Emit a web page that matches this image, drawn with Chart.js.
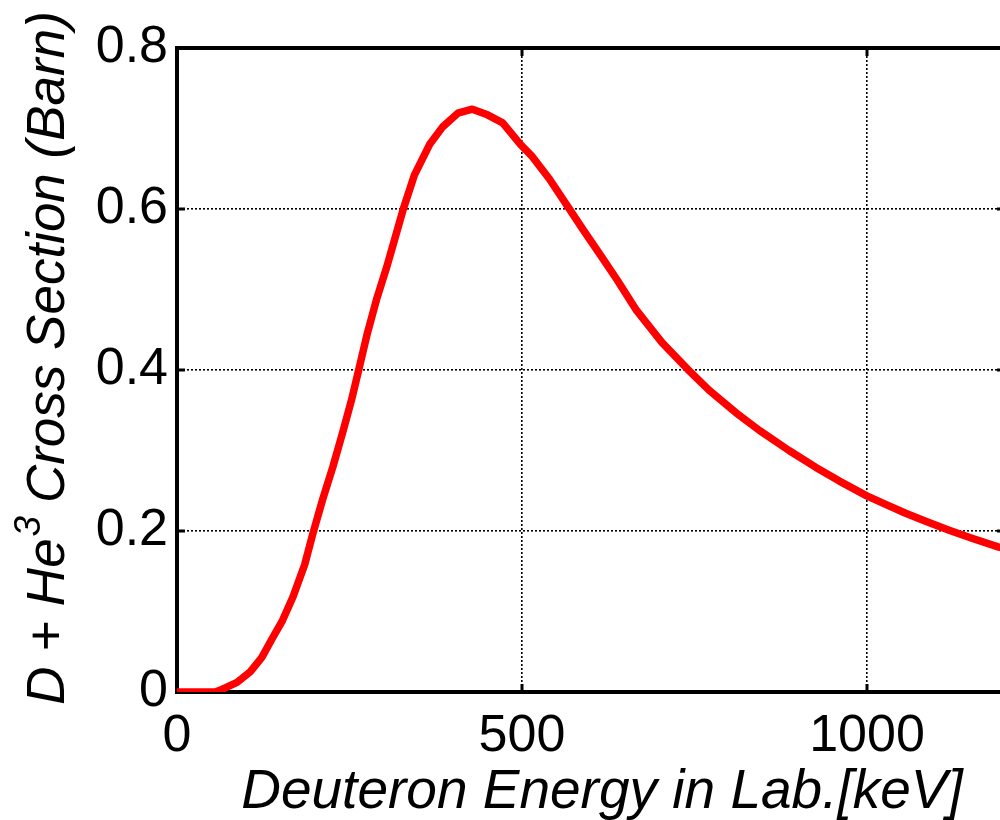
<!DOCTYPE html>
<html><head><meta charset="utf-8">
<script src="https://cdn.jsdelivr.net/npm/chart.js@4.4.1/dist/chart.umd.min.js"></script>
<style>
html,body{margin:0;padding:0;background:#fff;overflow:hidden;width:1000px;height:820px;}
#wrap{width:1012px;height:820px;}
canvas{display:block;}
</style></head><body>
<div id="wrap"><canvas id="c" width="1012" height="820"></canvas></div>
<script>
// ---- data ----
const energyKeV = [0, 30, 55, 62, 87, 106, 123, 137, 153, 168, 185, 197, 211, 226, 240, 253, 263, 276, 289, 304, 318, 328, 344, 366, 385, 407, 428, 450, 472, 498, 515, 540, 564, 588, 612, 637, 666, 703, 740, 771, 810, 844, 887, 926, 960, 999, 1027, 1056, 1085, 1119, 1152, 1191, 1200];
const crossSectionBarn = [0, 0, 0, 0.002, 0.012, 0.025, 0.043, 0.065, 0.089, 0.118, 0.158, 0.197, 0.239, 0.28, 0.322, 0.363, 0.399, 0.446, 0.487, 0.528, 0.570, 0.6, 0.642, 0.68, 0.702, 0.719, 0.724, 0.717, 0.707, 0.68, 0.665, 0.637, 0.606, 0.575, 0.545, 0.513, 0.474, 0.434, 0.401, 0.375, 0.347, 0.325, 0.300, 0.279, 0.262, 0.244, 0.233, 0.222, 0.212, 0.201, 0.191, 0.180, 0.178];
const xTickValues = [0, 500, 1000];
const yTickValues = [0, 0.2, 0.4, 0.6, 0.8];
const xAxisTitle = 'Deuteron Energy in Lab.[keV]';
const yAxisTitleParts = ['D + He', '3', ' Cross Section (Barn)'];

const FONT = "'Liberation Sans', Arial, sans-serif";

const points = energyKeV.map((e, i) => ({x: e, y: crossSectionBarn[i]}));

const framePlugin = {
  id: 'frame',
  beforeDatasetsDraw(chart) {
    const {ctx, chartArea: {left, right, top, bottom}, scales: {x, y}} = chart;
    ctx.save();
    ctx.strokeStyle = '#000';
    ctx.lineWidth = 4;
    ctx.beginPath();
    ctx.moveTo(left - 2, top); ctx.lineTo(right + 2, top);
    ctx.moveTo(right, top); ctx.lineTo(right, bottom);
    ctx.stroke();
    const L = 8;
    ctx.lineWidth = 3;
    ctx.beginPath();
    xTickValues.forEach(v => {
      const px = x.getPixelForValue(v);
      ctx.moveTo(px, bottom); ctx.lineTo(px, bottom - L);
      ctx.moveTo(px, top); ctx.lineTo(px, top + L);
    });
    yTickValues.forEach(v => {
      const py = y.getPixelForValue(v);
      ctx.moveTo(left, py); ctx.lineTo(left + L, py);
      ctx.moveTo(right, py); ctx.lineTo(right - L, py);
    });
    ctx.stroke();
    ctx.restore();
  },
  afterDraw(chart) {
    const {ctx, chartArea: {left, right, top, bottom}} = chart;
    ctx.save();
    ctx.fillStyle = '#000';
    // x title
    ctx.font = `italic 55px ${FONT}`;
    ctx.textAlign = 'center';
    ctx.textBaseline = 'alphabetic';
    ctx.fillText(xAxisTitle, (left + right) / 2 + 11, 808);
    // y title (rotated, with superscript)
    const mainFont = `italic 53px ${FONT}`;
    const supFont = `italic 37px ${FONT}`;
    ctx.font = mainFont;
    const w1 = ctx.measureText(yAxisTitleParts[0]).width;
    const w3 = ctx.measureText(yAxisTitleParts[2]).width;
    ctx.font = supFont;
    const w2 = ctx.measureText(yAxisTitleParts[1]).width;
    const total = w1 + w2 + w3;
    ctx.translate(64, 358);
    ctx.rotate(-Math.PI / 2);
    ctx.textAlign = 'left';
    let sx = -total / 2;
    ctx.font = mainFont;
    ctx.fillText(yAxisTitleParts[0], sx, 0);
    sx += w1;
    ctx.font = supFont;
    ctx.fillText(yAxisTitleParts[1], sx + 2, -24);
    sx += w2;
    ctx.font = mainFont;
    ctx.fillText(yAxisTitleParts[2], sx, 0);
    ctx.restore();
  }
};

new Chart(document.getElementById('c'), {
  type: 'line',
  data: {
    datasets: [{
      data: points,
      borderColor: '#ff0000',
      borderWidth: 7.5,
      pointRadius: 0,
      tension: 0,
      fill: false,
      borderJoinStyle: 'round',
      borderCapStyle: 'round'
    }]
  },
  options: {
    responsive: false,
    devicePixelRatio: 1,
    animation: false,
    layout: {padding: {top: 48, right: 7, left: 0, bottom: 0}},
    plugins: {legend: {display: false}, tooltip: {enabled: false}, title: {display: false}},
    scales: {
      x: {
        type: 'linear',
        min: 0, max: 1200,
        afterBuildTicks: s => { s.ticks = xTickValues.map(v => ({value: v})); },
        afterFit: s => { s.height = 128; },
        ticks: {
          font: {family: FONT, size: 52},
          color: '#000',
          padding: 13,
          maxRotation: 0,
          autoSkip: false,
          callback: v => String(v)
        },
        grid: {color: '#000', lineWidth: 1.6, drawTicks: false},
        border: {color: '#000', width: 4, dash: [2, 2]}
      },
      y: {
        type: 'linear',
        min: 0, max: 0.8,
        afterBuildTicks: s => { s.ticks = yTickValues.map(v => ({value: v})); },
        afterFit: s => { s.width = 177; },
        ticks: {
          font: {family: FONT, size: 52},
          color: '#000',
          padding: 9,
          autoSkip: false,
          callback: v => v === 0 ? '0' : v.toFixed(1)
        },
        grid: {color: '#000', lineWidth: 1.6, drawTicks: false},
        border: {color: '#000', width: 4, dash: [2, 2]}
      }
    }
  },
  plugins: [framePlugin]
});
</script>
</body></html>
